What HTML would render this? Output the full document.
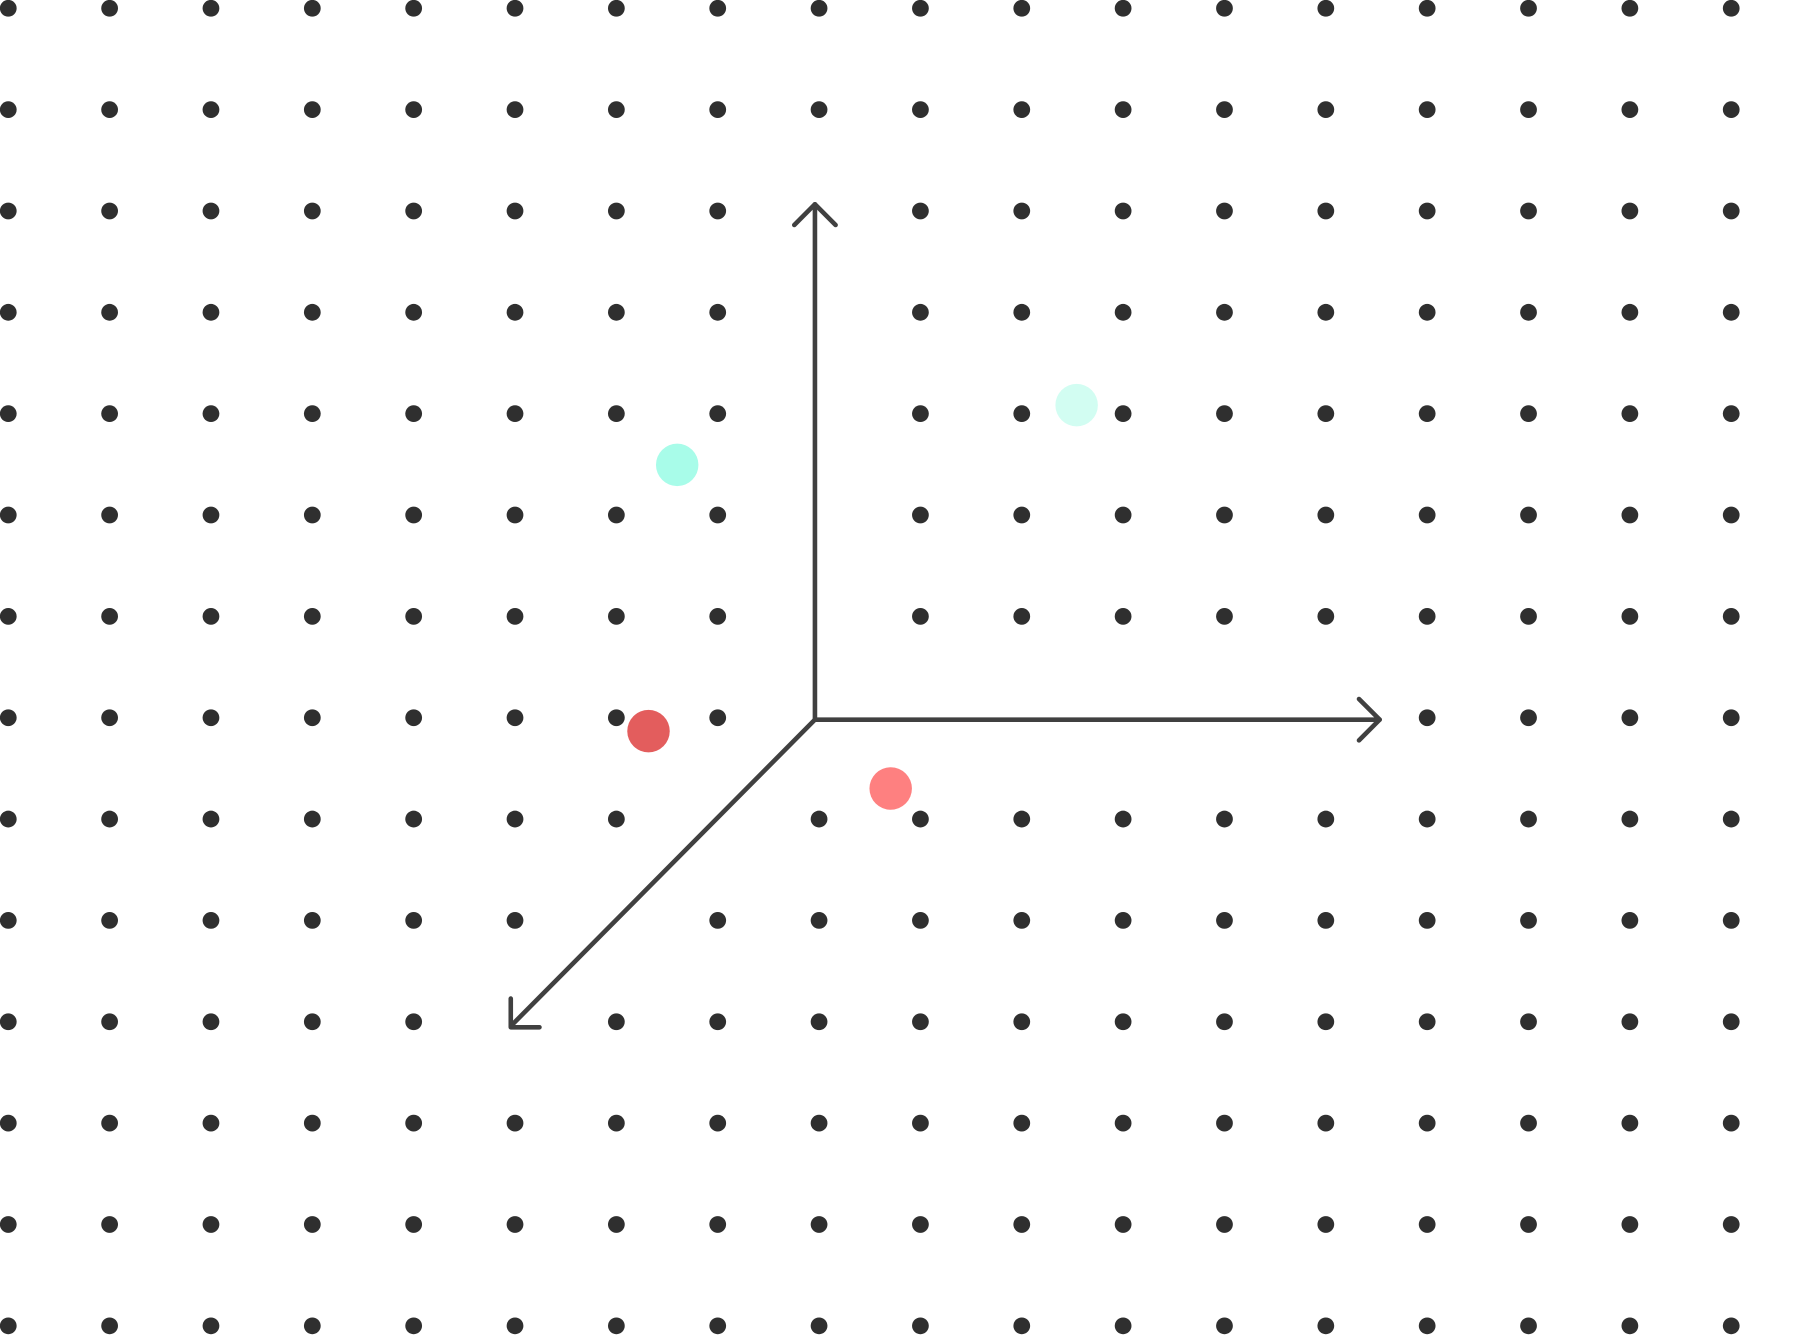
<!DOCTYPE html>
<html><head><meta charset="utf-8"><style>html,body{margin:0;padding:0;background:#fff}svg{display:block}</style></head>
<body>
<svg width="1799" height="1335" viewBox="0 0 1567.35 1163.1" xmlns="http://www.w3.org/2000/svg">
<rect width="1568" height="1164" fill="#fff"/>
<g id="dots" fill="#2f2f2f"></g>
<g stroke="#404040" stroke-width="4" fill="none" stroke-linecap="round" stroke-linejoin="round">
<line x1="710" y1="627" x2="710" y2="178"/>
<polyline points="692,196 710,178 728,196"/>
<line x1="710" y1="627" x2="1202" y2="627"/>
<polyline points="1184,609 1202,627 1184,645"/>
<line x1="710" y1="627" x2="445" y2="894"/>
<polyline points="445,870 445,895 470,895"/>
</g>
<circle cx="590" cy="405" r="18.5" fill="#a8fce9"/>
<circle cx="938" cy="353" r="18.5" fill="#d2fdf2"/>
<circle cx="565" cy="637" r="18.5" fill="#e35d5d"/>
<circle cx="776" cy="687" r="18.5" fill="#fe8080"/>
<script>
(function(){
var g=document.getElementById('dots'),ns='http://www.w3.org/2000/svg';
var skip={};
for(var j=2;j<=7;j++)skip['8,'+j]=1;
for(var i=8;i<=13;i++)skip[i+',7']=1;
skip['7,8']=1;skip['6,9']=1;skip['5,10']=1;
for(var j=0;j<14;j++)for(var i=0;i<18;i++){
if(skip[i+','+j])continue;
var c=document.createElementNS(ns,'circle');
c.setAttribute('cx',7.2+88.3*i);c.setAttribute('cy',7.2+88.3*j);c.setAttribute('r',7.3);
g.appendChild(c);}
})();
</script>
</svg>
</body></html>
